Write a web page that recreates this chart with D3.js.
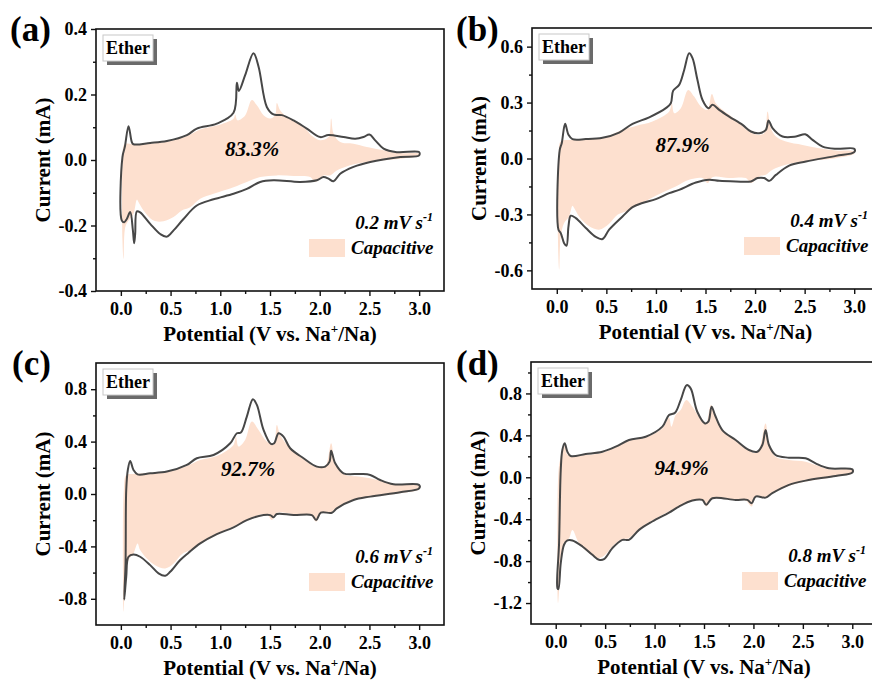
<!DOCTYPE html>
<html>
<head>
<meta charset="utf-8">
<script src="https://cdn.jsdelivr.net/npm/d3@7/dist/d3.min.js"></script>
<style>
  body { margin: 0; background: #fff; }
  svg text { font-family: "Liberation Serif", "Times New Roman", serif; font-weight: bold; fill: #000; }
</style>
</head>
<body>
<svg id="fig" width="872" height="681"></svg>
<script>
// shared axis values
var xTicks = [0.0, 0.5, 1.0, 1.5, 2.0, 2.5, 3.0],
    xMinor = [0.25, 0.75, 1.25, 1.75, 2.25, 2.75],
    panelLabels = ["(a)", "(b)", "(c)", "(d)"],
    scanRates = ["0.2", "0.4", "0.6", "0.8"],
    capPercents = ["83.3%", "87.9%", "92.7%", "94.9%"];

var yTicksA = [-0.4, -0.2, 0.0, 0.2, 0.4], yMinorA = [-0.3, -0.1, 0.1, 0.3],
    yTicksB = [-0.6, -0.3, 0.0, 0.3, 0.6], yMinorB = [-0.45, -0.15, 0.15, 0.45],
    yTicksC = [-0.8, -0.4, 0.0, 0.4, 0.8], yMinorC = [-0.6, -0.2, 0.2, 0.6],
    yTicksD = [-1.2, -0.8, -0.4, 0.0, 0.4, 0.8], yMinorD = [-1.0, -0.6, -0.2, 0.2, 0.6, 1.0];

// (a) 0.2 mV/s : measured CV [V, mA]
var lineUpA = [[0.01,-0.185],[0.016,0.009],[0.04,0.04],[0.077,0.103],[0.11,0.055],[0.127,0.048],[0.295,0.052],[0.463,0.058],[0.664,0.076],[0.764,0.096],[0.965,0.111],[1.133,0.144],[1.167,0.236],[1.187,0.211],[1.25,0.259],[1.334,0.326],[1.385,0.285],[1.468,0.162],[1.535,0.139],[1.62,0.137],[1.737,0.121],[1.87,0.096],[2.005,0.07],[2.088,0.076],[2.239,0.07],[2.357,0.065],[2.44,0.07],[2.50,0.078],[2.558,0.06],[2.642,0.035],[2.776,0.024],[3.0,0.024]];
var lineDownA = [[3.0,0.014],[2.81,0.009],[2.508,-0.006],[2.34,-0.021],[2.206,-0.042],[2.139,-0.065],[2.088,-0.057],[2.038,-0.052],[1.971,-0.062],[1.804,-0.067],[1.535,-0.062],[1.401,-0.067],[1.267,-0.088],[1.133,-0.103],[0.932,-0.12],[0.764,-0.139],[0.63,-0.18],[0.53,-0.215],[0.463,-0.234],[0.396,-0.226],[0.295,-0.195],[0.194,-0.16],[0.161,-0.157],[0.144,-0.226],[0.134,-0.254],[0.121,-0.215],[0.094,-0.159],[0.06,-0.18],[0.034,-0.19]];
// (a) capacitive contribution
var fillUpA = [[0.016,-0.246],[0.018,0.0],[0.036,0.048],[0.127,0.048],[0.463,0.056],[0.664,0.073],[0.798,0.093],[0.965,0.105],[1.133,0.126],[1.15,0.139],[1.173,0.121],[1.25,0.136],[1.317,0.183],[1.368,0.167],[1.435,0.137],[1.502,0.127],[1.552,0.137],[1.569,0.174],[1.602,0.152],[1.67,0.132],[1.804,0.111],[1.938,0.07],[2.005,0.06],[2.088,0.07],[2.115,0.127],[2.139,0.081],[2.206,0.055],[2.34,0.05],[2.474,0.04],[2.642,0.03],[2.81,0.021],[3.0,0.019]];
var fillDownA = [[3.0,0.014],[2.81,0.004],[2.474,-0.006],[2.306,-0.016],[2.172,-0.032],[2.105,-0.047],[2.038,-0.047],[1.954,-0.067],[1.904,-0.052],[1.737,-0.049],[1.569,-0.047],[1.401,-0.052],[1.267,-0.067],[1.133,-0.083],[0.932,-0.103],[0.798,-0.118],[0.697,-0.144],[0.613,-0.154],[0.53,-0.174],[0.429,-0.187],[0.329,-0.185],[0.228,-0.154],[0.178,-0.129],[0.161,-0.121],[0.127,-0.164],[0.077,-0.185],[0.044,-0.205],[0.027,-0.302]];

// (b) 0.4 mV/s
var lineUpB = [[0.017,-0.382],[0.03,0.046],[0.05,0.082],[0.084,0.186],[0.118,0.127],[0.158,0.104],[0.293,0.104],[0.461,0.111],[0.629,0.139],[0.764,0.186],[0.932,0.221],[1.10,0.27],[1.15,0.296],[1.174,0.364],[1.234,0.395],[1.285,0.475],[1.335,0.564],[1.369,0.538],[1.419,0.421],[1.47,0.314],[1.53,0.27],[1.571,0.288],[1.638,0.261],[1.739,0.225],[1.874,0.18],[1.958,0.145],[2.042,0.136],[2.109,0.154],[2.136,0.204],[2.176,0.163],[2.277,0.118],[2.412,0.118],[2.506,0.13],[2.58,0.1],[2.681,0.064],[2.816,0.052],[3.0,0.052]];
var lineDownB = [[3.0,0.034],[2.816,0.014],[2.513,-0.016],[2.344,-0.038],[2.21,-0.088],[2.143,-0.12],[2.092,-0.105],[2.025,-0.105],[1.958,-0.123],[1.806,-0.123],[1.638,-0.12],[1.537,-0.114],[1.403,-0.129],[1.234,-0.168],[1.134,-0.186],[0.999,-0.218],[0.864,-0.239],[0.764,-0.261],[0.663,-0.311],[0.528,-0.382],[0.461,-0.432],[0.394,-0.421],[0.293,-0.373],[0.192,-0.32],[0.141,-0.307],[0.118,-0.364],[0.098,-0.468],[0.074,-0.454],[0.04,-0.4]];
var fillUpB = [[0.012,-0.436],[0.019,0.011],[0.04,0.091],[0.158,0.1],[0.461,0.111],[0.663,0.154],[0.797,0.175],[0.965,0.198],[1.134,0.252],[1.16,0.296],[1.184,0.243],[1.251,0.27],[1.325,0.368],[1.386,0.332],[1.453,0.279],[1.52,0.261],[1.564,0.346],[1.604,0.296],[1.672,0.261],[1.806,0.207],[1.941,0.145],[2.025,0.127],[2.092,0.136],[2.126,0.252],[2.159,0.163],[2.21,0.118],[2.311,0.091],[2.479,0.073],[2.647,0.055],[2.815,0.043],[3.0,0.0375]];
var fillDownB = [[3.0,0.025],[2.815,0.002],[2.479,-0.016],[2.311,-0.034],[2.176,-0.061],[2.109,-0.0875],[2.042,-0.096],[1.958,-0.132],[1.907,-0.105],[1.739,-0.105],[1.571,-0.1],[1.52,-0.132],[1.47,-0.105],[1.335,-0.114],[1.2,-0.15],[1.066,-0.182],[0.932,-0.218],[0.797,-0.254],[0.696,-0.284],[0.612,-0.302],[0.528,-0.35],[0.427,-0.382],[0.326,-0.364],[0.225,-0.311],[0.175,-0.266],[0.158,-0.254],[0.124,-0.311],[0.074,-0.346],[0.04,-0.418],[0.024,-0.596]];

// (c) 0.6 mV/s
var lineUpC = [[0.034,-0.805],[0.047,-0.53],[0.054,0.031],[0.07,0.183],[0.094,0.252],[0.127,0.183],[0.168,0.15],[0.295,0.158],[0.463,0.171],[0.664,0.222],[0.764,0.273],[0.932,0.298],[1.10,0.387],[1.167,0.464],[1.207,0.469],[1.267,0.591],[1.328,0.724],[1.368,0.68],[1.435,0.489],[1.509,0.382],[1.542,0.387],[1.586,0.464],[1.636,0.438],[1.703,0.349],[1.837,0.273],[1.971,0.209],[2.055,0.209],[2.099,0.247],[2.115,0.331],[2.156,0.234],[2.239,0.158],[2.407,0.153],[2.508,0.145],[2.608,0.107],[2.742,0.074],[3.0,0.069]];
var lineDownC = [[3.0,0.043],[2.809,0.013],[2.508,-0.02],[2.34,-0.046],[2.172,-0.11],[2.122,-0.143],[2.011,-0.143],[1.964,-0.199],[1.921,-0.161],[1.737,-0.161],[1.569,-0.153],[1.535,-0.178],[1.502,-0.161],[1.435,-0.161],[1.267,-0.199],[1.133,-0.255],[0.965,-0.306],[0.798,-0.377],[0.681,-0.448],[0.597,-0.504],[0.496,-0.594],[0.446,-0.624],[0.379,-0.606],[0.295,-0.543],[0.194,-0.479],[0.127,-0.461],[0.077,-0.479],[0.054,-0.632]];
var fillUpC = [[0.022,-0.683],[0.03,0.031],[0.054,0.145],[0.127,0.153],[0.463,0.168],[0.664,0.214],[0.798,0.26],[0.965,0.29],[1.133,0.375],[1.157,0.438],[1.183,0.362],[1.25,0.413],[1.317,0.553],[1.385,0.489],[1.468,0.4],[1.535,0.375],[1.569,0.527],[1.602,0.451],[1.703,0.349],[1.837,0.265],[1.971,0.204],[2.055,0.209],[2.115,0.387],[2.156,0.234],[2.239,0.153],[2.407,0.132],[2.541,0.115],[2.742,0.076],[3.0,0.061]];
var fillDownC = [[3.0,0.036],[2.809,0.005],[2.474,-0.028],[2.306,-0.051],[2.172,-0.104],[2.105,-0.143],[2.021,-0.143],[1.964,-0.211],[1.904,-0.161],[1.737,-0.153],[1.569,-0.143],[1.519,-0.199],[1.468,-0.155],[1.334,-0.173],[1.2,-0.224],[1.066,-0.27],[0.932,-0.326],[0.798,-0.377],[0.697,-0.428],[0.613,-0.459],[0.53,-0.53],[0.446,-0.568],[0.345,-0.543],[0.261,-0.492],[0.194,-0.428],[0.168,-0.377],[0.127,-0.454],[0.077,-0.504],[0.044,-0.683],[0.027,-0.899]];

// (d) 0.8 mV/s
var lineUpD = [[0.017,-1.057],[0.034,-0.629],[0.051,0.07],[0.067,0.26],[0.091,0.324],[0.118,0.244],[0.152,0.203],[0.303,0.222],[0.472,0.244],[0.607,0.292],[0.741,0.356],[0.91,0.387],[1.079,0.483],[1.146,0.594],[1.207,0.616],[1.264,0.737],[1.325,0.879],[1.365,0.848],[1.432,0.625],[1.51,0.514],[1.544,0.53],[1.577,0.673],[1.611,0.594],[1.685,0.451],[1.82,0.356],[1.955,0.26],[2.039,0.244],[2.09,0.308],[2.123,0.451],[2.157,0.308],[2.224,0.213],[2.359,0.187],[2.528,0.181],[2.629,0.133],[2.764,0.086],[3.0,0.076]];
var lineDownD = [[3.0,0.044],[2.831,0.013],[2.528,-0.032],[2.359,-0.073],[2.191,-0.152],[2.123,-0.194],[2.022,-0.184],[1.982,-0.248],[1.938,-0.216],[1.82,-0.216],[1.584,-0.2],[1.523,-0.263],[1.483,-0.216],[1.382,-0.222],[1.247,-0.279],[1.146,-0.337],[0.977,-0.422],[0.843,-0.502],[0.741,-0.597],[0.674,-0.597],[0.573,-0.676],[0.489,-0.781],[0.438,-0.787],[0.371,-0.74],[0.27,-0.66],[0.169,-0.603],[0.118,-0.603],[0.084,-0.644],[0.051,-0.819],[0.027,-1.067]];
var fillUpD = [[0.016,-0.819],[0.029,0.07],[0.051,0.197],[0.074,0.276],[0.094,0.298],[0.121,0.213],[0.303,0.213],[0.472,0.235],[0.607,0.286],[0.741,0.349],[0.91,0.378],[1.079,0.467],[1.146,0.571],[1.17,0.483],[1.213,0.594],[1.264,0.641],[1.321,0.737],[1.382,0.673],[1.449,0.578],[1.517,0.508],[1.571,0.689],[1.618,0.584],[1.685,0.451],[1.82,0.349],[1.955,0.254],[2.039,0.235],[2.123,0.514],[2.157,0.308],[2.224,0.197],[2.359,0.165],[2.528,0.149],[2.629,0.117],[2.764,0.076],[3.0,0.07]];
var fillDownD = [[3.0,0.038],[2.831,0.006],[2.528,-0.041],[2.359,-0.083],[2.191,-0.152],[2.123,-0.194],[2.022,-0.19],[1.982,-0.279],[1.921,-0.222],[1.753,-0.21],[1.584,-0.2],[1.523,-0.279],[1.483,-0.216],[1.382,-0.222],[1.247,-0.279],[1.146,-0.327],[0.977,-0.413],[0.843,-0.492],[0.741,-0.581],[0.674,-0.59],[0.573,-0.66],[0.489,-0.749],[0.421,-0.771],[0.337,-0.724],[0.236,-0.629],[0.169,-0.502],[0.135,-0.581],[0.084,-0.629],[0.051,-0.851],[0.024,-1.2]];

var svg = d3.select("#fig");

var panels = [
  { left: 96,  top: 29,  w: 348, h: 262, yDom: [-0.4, 0.4], yTicks: yTicksA, yMinor: yMinorA,
    lineUp: lineUpA, lineDown: lineDownA, fillUp: fillUpA, fillDown: fillDownA, labX: 10,  labY: 41, pct: [1.32, 0.011] },
  { left: 532, top: 28,  w: 347, h: 261, yDom: [-0.7, 0.7], yTicks: yTicksB, yMinor: yMinorB,
    lineUp: lineUpB, lineDown: lineDownB, fillUp: fillUpB, fillDown: fillDownB, labX: 456, labY: 41, pct: [1.27, 0.036] },
  { left: 96,  top: 363, w: 348, h: 262, yDom: [-1.0, 1.0], yTicks: yTicksC, yMinor: yMinorC,
    lineUp: lineUpC, lineDown: lineDownC, fillUp: fillUpC, fillDown: fillDownC, labX: 12,  labY: 375, pct: [1.28, 0.138] },
  { left: 531, top: 362, w: 346, h: 262, yDom: [-1.4, 1.1], yTicks: yTicksD, yMinor: yMinorD,
    lineUp: lineUpD, lineDown: lineDownD, fillUp: fillUpD, fillDown: fillDownD, labX: 456, labY: 375, pct: [1.274, 0.022] }
];

panels.forEach(function(p, i) { drawPanel(p, i); });

function drawPanel(p, i) {
  var g = svg.append("g"),
      x = d3.scaleLinear().domain([-0.25, 3.25]).range([p.left, p.left + p.w]),
      y = d3.scaleLinear().domain(p.yDom).range([p.top + p.h, p.top]),
      fmt = function(d) { return d.toFixed(1); };

  var path = d3.line()
      .x(function(d) { return x(d[0]); })
      .y(function(d) { return y(d[1]); })
      .curve(d3.curveCatmullRomClosed.alpha(0.5));

  // capacitive area, then the CV loop on top
  g.append("path")
      .datum(p.fillUp.concat(p.fillDown))
      .attr("d", path)
      .attr("fill", "#fde0cf")
      .attr("stroke", "none");

  g.append("path")
      .datum(p.lineUp.concat(p.lineDown))
      .attr("d", path)
      .attr("fill", "none")
      .attr("stroke", "#474747")
      .attr("stroke-width", 2)
      .attr("stroke-linejoin", "round");

  // axes (outward ticks)
  var bottom = p.top + p.h;
  g.append("g").attr("transform", "translate(0," + bottom + ")")
      .call(d3.axisBottom(x).tickValues(xMinor).tickSize(3).tickFormat(""))
      .call(styleAxis);
  g.append("g").attr("transform", "translate(0," + bottom + ")")
      .call(d3.axisBottom(x).tickValues(xTicks).tickSize(5).tickPadding(6).tickFormat(fmt))
      .call(styleAxis);
  g.append("g").attr("transform", "translate(" + p.left + ",0)")
      .call(d3.axisLeft(y).tickValues(p.yMinor).tickSize(3).tickFormat(""))
      .call(styleAxis);
  g.append("g").attr("transform", "translate(" + p.left + ",0)")
      .call(d3.axisLeft(y).tickValues(p.yTicks).tickSize(5).tickPadding(4).tickFormat(fmt))
      .call(styleAxis);

  g.append("rect")
      .attr("x", p.left).attr("y", p.top)
      .attr("width", p.w).attr("height", p.h)
      .attr("fill", "none").attr("stroke", "#111").attr("stroke-width", 1.6);

  // axis titles
  var xt = g.append("text")
      .attr("x", p.left + p.w / 2).attr("y", bottom + 50)
      .attr("text-anchor", "middle").style("font-size", "21px");
  xt.append("tspan").text("Potential (V vs. Na");
  xt.append("tspan").attr("dy", -8).style("font-size", "13px").text("+");
  xt.append("tspan").attr("dy", 8).text("/Na)");

  g.append("text")
      .attr("transform", "translate(" + (p.left - 46) + "," + (p.top + p.h / 2) + ") rotate(-90)")
      .attr("text-anchor", "middle").style("font-size", "21px")
      .text("Current (mA)");

  // panel letter
  g.append("text").attr("x", p.labX).attr("y", p.labY)
      .style("font-size", "35px").text(panelLabels[i]);

  // "Ether" tag with drop shadow
  var bx = p.left + 7, by = p.top + 6;
  g.append("rect").attr("x", bx + 4).attr("y", by + 4).attr("width", 50).attr("height", 26).attr("fill", "#6a6a6a");
  g.append("rect").attr("x", bx).attr("y", by).attr("width", 50).attr("height", 26)
      .attr("fill", "#fff").attr("stroke", "#c8c8c8").attr("stroke-width", 1);
  g.append("text").attr("x", bx + 25).attr("y", by + 19).attr("text-anchor", "middle")
      .style("font-size", "18px").text("Ether");

  // capacitive percentage
  g.append("text").attr("x", x(p.pct[0])).attr("y", y(p.pct[1]))
      .attr("text-anchor", "middle").style("font-size", "21px").style("font-style", "italic")
      .text(capPercents[i]);

  // legend
  var right = p.left + p.w;
  var rt = g.append("text").attr("x", right - 11).attr("y", bottom - 62)
      .attr("text-anchor", "end").style("font-size", "19px").style("font-style", "italic");
  rt.append("tspan").text(scanRates[i] + " mV s");
  rt.append("tspan").attr("dy", -8).style("font-size", "12px").text("-1");

  g.append("rect").attr("x", right - 135).attr("y", bottom - 52).attr("width", 36).attr("height", 18)
      .attr("fill", "#fde0cf");
  g.append("text").attr("x", right - 93).attr("y", bottom - 37)
      .style("font-size", "19px").style("font-style", "italic").text("Capacitive");
}

function styleAxis(sel) {
  sel.select(".domain").remove();
  sel.selectAll(".tick line").attr("stroke", "#111").attr("stroke-width", 1.4);
  sel.selectAll(".tick text")
      .style("font-family", "'Liberation Serif', 'Times New Roman', serif")
      .style("font-weight", "bold").style("font-size", "18px").attr("fill", "#000");
}
</script>
</body>
</html>
